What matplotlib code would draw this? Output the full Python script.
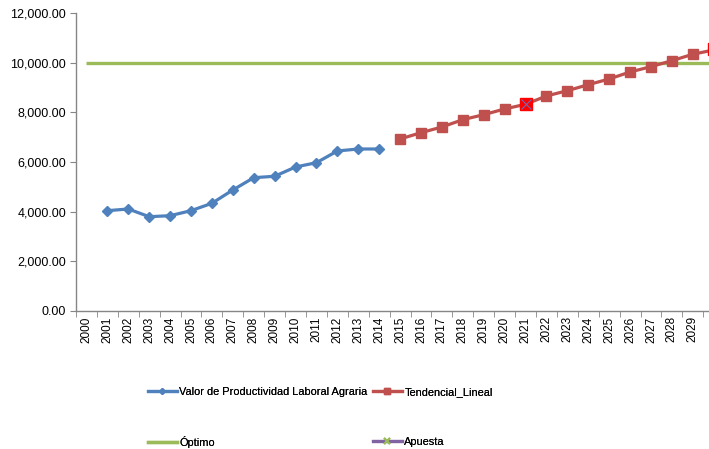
import numpy as np
import matplotlib.pyplot as plt
from matplotlib.lines import Line2D
from matplotlib.ticker import FuncFormatter, FixedLocator

plt.rcParams['font.family'] = ['Liberation Sans', 'DejaVu Sans']

# datos
years = list(range(2000, 2031))
valor_years = list(range(2001, 2015))
valor = [4036, 4104, 3793, 3834, 4036, 4334, 4871, 5367, 5424, 5799, 5973, 6445, 6525, 6525]
tend_years = list(range(2015, 2031))
tendencial = [6929, 7183, 7413, 7708, 7910, 8140, 8329, 8664, 8878, 9120,
              9350, 9633, 9847, 10089, 10347, 10521]
optimo = [10000] * len(years)
apuesta_years = [2021, 2030]
apuesta = [8329, 10550]

azul = '#4F81BD'
rojo = '#C0504D'
verde = '#9BBB59'
morado = '#8064A2'
gris = '#868686'

fig = plt.figure(figsize=(7.09, 4.49), dpi=100)
# el eje se sale por la derecha (la imagen original esta recortada)
ax = fig.add_axes([76 / 709, 138.3 / 449, 648.2 / 709, 297.4 / 449])

pos = lambda ys: [y - 2000 for y in ys]

ax.plot(pos(years), optimo, color=verde, lw=2.4, solid_capstyle='butt', zorder=2)
ax.plot(pos(valor_years), valor, color=azul, lw=2.3, marker='D', ms=5.5, zorder=3)
ax.plot(pos(tend_years), tendencial, color=rojo, lw=2.3, marker='s', ms=7, zorder=3)
ax.plot(pos(apuesta_years), apuesta, ls='none', marker='s', ms=8.2, color='#FF0000',
        zorder=4, clip_on=False)
ax.plot(pos(apuesta_years), apuesta, ls='none', marker='x', ms=7, mew=0.8, color='#6A6AB8',
        zorder=5, clip_on=False)

ax.set_xlim(-0.5, 30.5)
ax.set_ylim(0, 12000)
ax.set_yticks(np.arange(0, 12001, 2000))
ax.yaxis.set_major_formatter(FuncFormatter(lambda v, p: f'{v:,.2f}'))

# la etiqueta 2030 queda fuera del recorte
ax.set_xticks(pos(years[:-1]))
ax.set_xticklabels([str(y) for y in years[:-1]], rotation=90)
ax.xaxis.set_minor_locator(FixedLocator(np.arange(-0.5, 31, 1)))
ax.tick_params(axis='x', which='major', length=0, pad=4, labelsize=8.5, colors='#000000')
ax.tick_params(axis='x', which='minor', length=4, color=gris, direction='out')
ax.tick_params(axis='y', length=4, color=gris, labelsize=9, pad=3)

for s in ['top', 'right']:
    ax.spines[s].set_visible(False)
for s in ['left', 'bottom']:
    ax.spines[s].set_color(gris)
    ax.spines[s].set_linewidth(1)

# leyenda: cuatro entradas colocadas en dos filas y dos columnas
entradas = [
    (Line2D([], [], color=azul, lw=2.3, marker='D', ms=3), 'Valor de Productividad Laboral Agraria', 148, 392),
    (Line2D([], [], color=rojo, lw=2.3, marker='s', ms=4), 'Tendencial_Lineal', 373, 392),
    (Line2D([], [], color=verde, lw=2.4), 'Óptimo', 148, 442),
    (Line2D([], [], color=morado, lw=2.3, marker='x', ms=5, mec=verde, mew=1.5), 'Apuesta', 373, 442),
]
for h, lab, px, py in entradas:
    leg = fig.legend([h], [lab], loc='center left', bbox_to_anchor=(px / 709, 1 - py / 449),
                     frameon=False, fontsize=7.9, handlelength=2.6, handletextpad=0.25,
                     borderpad=0, borderaxespad=0)
    fig.add_artist(leg)

fig.savefig('out.png', dpi=100)
